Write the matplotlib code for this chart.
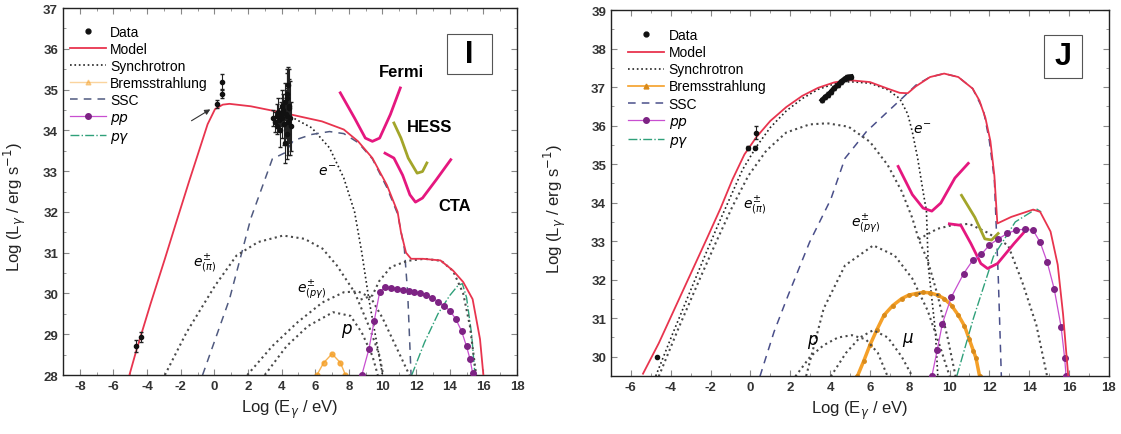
import matplotlib
matplotlib.use("Agg")
import matplotlib.pyplot as plt
from matplotlib.lines import Line2D
from matplotlib.patches import Rectangle
from matplotlib.ticker import MultipleLocator, FormatStrFormatter

plt.rcParams['font.family'] = ['Liberation Sans', 'DejaVu Sans']

# ---------------- panel I (left) ----------------
I_model_x = [-5.05, -4.64, -3.79, -2.94, -2.3, -1.5, -0.91, -0.4, 0.04, 0.5, 0.9, 2.17, 4.09, 6.4, 7.7,
             8.55, 9.4, 10.26, 10.9, 11.1, 11.4, 11.7, 12.4, 13.45, 14.2, 14.8, 15.36, 15.8, 16.0]
I_model_y = [28.0, 28.6, 29.75, 30.85, 31.7, 32.75, 33.5, 34.15, 34.52, 34.63, 34.65, 34.59, 34.43, 34.22, 34.02,
             33.73, 33.32, 32.66, 32.0, 31.5, 31.0, 30.85, 30.85, 30.81, 30.56, 30.28, 29.86, 28.88, 28.0]

I_sync_x = [4.3, 5.8, 6.85, 7.7, 8.34, 8.77, 9.19, 9.62, 10.0]
I_sync_y = [34.39, 34.06, 33.57, 32.83, 32.0, 31.0, 29.86, 28.88, 28.0]

I_ssc_x = [-0.7, 0.9, 2.17, 3.45, 4.2, 4.7, 5.8, 6.85, 7.7, 8.55, 9.4, 10.26, 10.9, 11.3, 11.5, 11.7]
I_ssc_y = [28.0, 29.86, 31.84, 33.3, 33.45, 33.75, 33.9, 33.97, 33.92, 33.7, 33.3, 32.6, 31.95, 31.1, 30.0, 28.0]

I_epi_x = [-2.94, -1.66, 0.04, 1.32, 2.6, 4.09, 5.36, 6.43, 7.28, 8.34, 9.19, 9.83, 10.04]
I_epi_y = [28.0, 29.04, 30.19, 30.93, 31.26, 31.42, 31.34, 31.1, 30.69, 30.03, 29.2, 28.47, 28.0]

I_epg1_x = [1.96, 3.45, 4.94, 6.43, 7.7, 8.55, 9.3, 10.0, 10.8, 11.6]
I_epg1_y = [28.0, 28.71, 29.29, 29.78, 30.03, 30.05, 29.9, 29.4, 28.7, 28.0]
I_epg2_x = [8.7, 9.4, 9.8, 10.5, 11.5, 12.5, 13.5, 14.2, 14.8, 15.2, 15.57]
I_epg2_y = [29.85, 29.95, 30.3, 30.65, 30.8, 30.85, 30.8, 30.55, 30.0, 29.2, 28.0]

I_p_x = [3.0, 4.3, 5.57, 7.06, 8.1, 8.77, 9.4, 9.72]
I_p_y = [28.0, 28.71, 29.2, 29.54, 29.45, 29.04, 28.47, 28.0]

I_pp_x = [8.77, 9.19, 9.51, 9.83, 10.15, 10.5, 10.85, 11.2, 11.55, 11.9, 12.25, 12.6, 12.95, 13.3,
          13.66, 14.0, 14.35, 14.7, 15.0, 15.2, 15.36]
I_pp_y = [28.0, 28.63, 29.33, 30.03, 30.15, 30.14, 30.12, 30.09, 30.06, 30.03, 30.0, 29.96, 29.9, 29.8,
          29.7, 29.58, 29.38, 29.08, 28.7, 28.4, 28.05]

I_pg_x = [11.74, 12.5, 13.3, 14.0, 14.5, 14.75, 15.0, 15.3, 15.5]
I_pg_y = [28.0, 28.8, 29.5, 29.95, 30.2, 30.24, 29.9, 29.0, 28.0]

I_brem_x = [6.1, 6.5, 7.0, 7.5, 7.8]
I_brem_y = [28.0, 28.3, 28.52, 28.3, 28.0]

I_fermi_x = [7.49, 8.34, 8.98, 9.4, 9.83, 10.47, 11.06]
I_fermi_y = [34.92, 34.3, 33.81, 33.73, 33.81, 34.39, 35.04]
I_hess_x = [10.68, 11.1, 11.53, 12.06, 12.38, 12.64]
I_hess_y = [34.18, 33.81, 33.32, 32.95, 32.99, 33.2]
I_cta_x = [10.15, 10.68, 11.2, 11.63, 11.96, 12.38, 13.2, 14.06]
I_cta_y = [33.44, 33.32, 32.9, 32.42, 32.24, 32.34, 32.79, 33.28]

I_data_x = [-4.64, -4.36, 0.15, 0.43, 0.43,
            3.5, 3.6, 3.7, 3.75, 3.8, 3.85, 3.9, 3.95, 4.0, 4.05, 4.1, 4.15, 4.2, 4.25, 4.3,
            4.35, 4.4, 4.45, 4.5, 4.55, 4.3, 4.4, 4.2, 4.35, 4.45]
I_data_y = [28.71, 28.94, 34.65, 34.9, 35.19,
            34.3, 34.2, 34.35, 34.1, 34.45, 34.25, 34.0, 34.4, 34.6, 34.3, 34.5, 34.15, 34.7, 34.4, 34.9,
            34.35, 34.2, 34.55, 34.3, 34.1, 33.9, 35.1, 33.7, 34.8, 34.6]
I_data_err = [0.15, 0.12, 0.1, 0.1, 0.18,
              0.2, 0.25, 0.3, 0.2, 0.35, 0.3, 0.4, 0.3, 0.4, 0.5, 0.4, 0.5, 0.45, 0.6, 0.5,
              0.7, 0.8, 0.7, 0.9, 0.6, 0.6, 0.45, 0.5, 0.7, 0.9]

# ---------------- panel J (right) ----------------
J_model_x = [-5.39, -4.6, -3.8, -3.0, -2.2, -1.5, -0.9, -0.3, 0.3, 1.0, 1.8, 2.6, 3.4, 4.2, 4.93, 6.0,
             6.89, 7.5, 7.9, 8.31, 9.02, 9.73, 10.44, 11.16, 11.5, 11.8, 12.05, 12.25, 12.4, 13.1, 14.2,
             14.55, 15.07, 15.43, 15.7, 15.87, 15.96]
J_model_y = [29.56, 30.35, 31.25, 32.15, 33.05, 33.85, 34.6, 35.25, 35.7, 36.12, 36.48, 36.77, 36.98, 37.12,
             37.18, 37.13, 36.96, 36.85, 36.84, 37.02, 37.26, 37.35, 37.26, 36.96, 36.65, 36.2, 35.6, 34.7,
             33.46, 33.63, 33.82, 33.76, 33.25, 32.39, 31.1, 30.04, 29.5]

J_sync_x = [-4.75, -3.9, -3.1, -2.3, -1.6, -1.0, -0.4, 0.3, 1.0, 1.8, 2.6, 3.4, 4.2, 5.0, 6.0, 6.9,
            7.5, 7.9, 8.13, 8.4, 8.67, 8.84, 8.93, 9.11, 9.29, 9.41]
J_sync_y = [29.5, 30.6, 31.6, 32.6, 33.45, 34.15, 34.85, 35.45, 35.95, 36.38, 36.7, 36.94, 37.08, 37.14,
            37.1, 36.93, 36.7, 36.3, 35.84, 35.15, 34.29, 33.78, 32.37, 31.51, 30.65, 29.49]

J_ssc_x = [0.48, 1.19, 1.9, 2.97, 4.04, 4.75, 5.82, 6.89, 7.6, 8.13, 8.31, 9.02, 9.73, 10.44, 11.16,
           11.7, 12.0, 12.25, 12.45, 12.6]
J_ssc_y = [29.49, 30.65, 31.6, 32.97, 34.09, 35.15, 35.84, 36.36, 36.7, 36.96, 37.05, 37.26, 37.35, 37.26,
           36.96, 36.4, 35.6, 34.6, 32.0, 29.5]

J_epi_x = [-4.6, -3.6, -2.6, -1.7, -0.9, -0.1, 0.8, 1.8, 2.97, 3.86, 4.93, 6.0, 6.89, 7.6, 8.13, 8.45,
           8.9, 9.4, 9.9, 10.3]
J_epi_y = [29.49, 30.75, 31.95, 33.0, 33.9, 34.7, 35.35, 35.82, 36.03, 36.06, 35.97, 35.58, 34.98, 34.29,
           33.6, 33.05, 32.5, 31.6, 30.5, 29.5]

J_epg1_x = [2.8, 3.68, 4.75, 6.17, 7.24, 8.13, 8.9, 9.5, 10.0]
J_epg1_y = [29.5, 31.25, 32.37, 32.89, 32.63, 32.03, 31.2, 30.3, 29.5]
J_epg2_x = [8.45, 9.38, 10.09, 10.98, 11.87, 12.94, 13.65, 14.36, 14.9]
J_epg2_y = [33.05, 33.32, 33.41, 33.45, 33.23, 32.89, 31.94, 30.82, 29.49]

J_p_x = [2.26, 3.0, 3.68, 4.4, 5.1, 5.8, 6.4, 6.89]
J_p_y = [29.49, 30.0, 30.3, 30.5, 30.56, 30.45, 30.1, 29.49]
J_mu_x = [4.04, 4.8, 5.5, 6.17, 6.9, 7.6, 8.13]
J_mu_y = [29.49, 30.1, 30.5, 30.69, 30.5, 30.0, 29.49]

J_pp_x = [9.11, 9.38, 9.64, 10.09, 10.71, 11.16, 11.6, 12.0, 12.45, 12.9, 13.35, 13.8, 14.2, 14.55,
          14.9, 15.25, 15.6, 15.78, 15.85]
J_pp_y = [29.49, 30.17, 30.86, 31.55, 32.16, 32.5, 32.66, 32.9, 33.06, 33.2, 33.29, 33.31, 33.28, 32.97,
          32.46, 31.77, 30.78, 29.96, 29.5]

J_pg_x = [10.36, 11.2, 12.2, 13.3, 14.36, 14.6]
J_pg_y = [29.49, 31.0, 32.6, 33.5, 33.84, 33.76]

J_brem_x = [5.37, 5.7, 6.0, 6.35, 6.71, 7.15, 7.6, 7.95, 8.31, 8.65, 9.02, 9.4, 9.73, 10.1, 10.44,
            10.75, 10.98, 11.2, 11.33, 11.51]
J_brem_y = [29.49, 29.9, 30.3, 30.7, 31.08, 31.33, 31.51, 31.6, 31.64, 31.67, 31.66, 31.6, 31.51, 31.33, 31.08,
            30.8, 30.47, 30.15, 29.96, 29.49]

J_fermi_x = [7.42, 8.13, 8.67, 9.11, 9.56, 10.27, 10.94]
J_fermi_y = [34.94, 34.21, 33.86, 33.78, 33.99, 34.64, 35.02]
J_hess_x = [10.6, 11.27, 11.77, 12.11, 12.44]
J_hess_y = [34.19, 33.62, 33.06, 33.03, 33.2]
J_cta_x = [9.99, 10.57, 11.07, 11.57, 11.91, 12.41, 13.24, 13.91]
J_cta_y = [33.45, 33.41, 32.94, 32.42, 32.29, 32.42, 32.94, 33.33]

J_data_x = [-4.68, -0.14, 0.21, 0.3, 3.6, 3.75, 3.9, 4.04, 4.2, 4.4, 4.55, 4.75, 4.85, 4.93, 5.05]
J_data_y = [30.0, 35.41, 35.43, 35.82, 36.66, 36.74, 36.8, 36.87, 36.97, 37.05, 37.14, 37.22, 37.25, 37.26, 37.27]
J_data_err = [0.03, 0.05, 0.05, 0.18, 0.06, 0.05, 0.06, 0.05, 0.05, 0.06, 0.05, 0.05, 0.06, 0.05, 0.05]

LEGEND_LABELS = ['Data', 'Model', 'Synchrotron', 'Bremsstrahlung', 'SSC', '$pp$', r'$p\gamma$']

RED = '#e8344e'
SENS = '#e5177f'
HESS = '#a3a52a'
PPL = '#c84fd0'
PPM = '#7d2384'
PGC = '#2fa07a'
ORG = '#f5a028'
DOT = '#4a4a4a'

fig = plt.figure(figsize=(11.21, 4.35), dpi=100)
axI = fig.add_axes([0.0562, 0.1356, 0.405, 0.8437])
axJ = fig.add_axes([0.545, 0.1333, 0.4442, 0.8414])


def style_axes(ax, xlim, ylim, ylab_x):
    ax.set_xlim(*xlim)
    ax.set_ylim(*ylim)
    ax.xaxis.set_major_locator(MultipleLocator(2))
    ax.xaxis.set_minor_locator(MultipleLocator(1))
    ax.yaxis.set_major_locator(MultipleLocator(1))
    ax.yaxis.set_minor_locator(MultipleLocator(0.5))
    ax.xaxis.set_major_formatter(FormatStrFormatter('%d'))
    ax.yaxis.set_major_formatter(FormatStrFormatter('%d'))
    ax.tick_params(which='both', direction='in', top=True, right=True, colors='#888888',
                   labelcolor='#333333', labelsize=9.5)
    ax.tick_params(which='major', length=4, width=0.8)
    ax.tick_params(which='minor', length=2, width=0.6)
    for lab in ax.get_xticklabels() + ax.get_yticklabels():
        lab.set_fontweight('bold')
    for s in ax.spines.values():
        s.set_color('#222222')
        s.set_linewidth(1.0)
    ax.set_xlabel(r'Log (E$_\gamma$ / eV)', fontsize=12, color='#222222')
    ax.set_ylabel(r'Log (L$_\gamma$ / erg s$^{-1}$)', fontsize=12, color='#222222')
    ax.yaxis.set_label_coords(ylab_x, 0.46)


def panel_box(ax, letter, x0, y0, w, h):
    ax.add_patch(Rectangle((x0, y0), w, h, transform=ax.transAxes, fc='white',
                           ec='#555555', lw=0.8, zorder=7))
    ax.text(x0 + w / 2, y0 + h / 2, letter, transform=ax.transAxes, fontsize=22,
            fontweight='bold', ha='center', va='center', zorder=8)


def add_legend(ax, brem_handle, anchor):
    data_h = Line2D([], [], ls='none', marker='o', ms=3.5, color='#111111')
    handles = [data_h] + list(ax.get_legend_handles_labels()[0])
    handles[3] = brem_handle
    ax.legend(handles, LEGEND_LABELS, loc='upper left', bbox_to_anchor=anchor, frameon=False,
              fontsize=10, handlelength=2.6, labelspacing=0.22, handletextpad=0.3,
              borderpad=0.0, borderaxespad=0.0)


# ---- panel I ----
ax = axI
ax.errorbar(I_data_x, I_data_y, yerr=I_data_err, fmt='o', ms=3, color='#111111',
            ecolor='#222222', elinewidth=0.8, capsize=1.5, zorder=6)
ax.plot(I_model_x, I_model_y, color=RED, lw=1.3, label='Model', zorder=5)
ax.plot(I_sync_x, I_sync_y, ':', color='#222222', lw=1.2, label='Synchrotron')
ax.plot(I_brem_x, I_brem_y, '-', color=ORG, lw=1.0, marker='o', ms=3.5, alpha=0.8,
        label='Bremsstrahlung')
ax.plot(I_ssc_x, I_ssc_y, '--', color='#505a80', lw=1.1, dashes=(5, 4), label='SSC')
ax.plot(I_pp_x, I_pp_y, '-', color=PPL, lw=0.9, marker='o', ms=4, mfc=PPM, mec=PPM,
        label='$pp$', zorder=4)
ax.plot(I_pg_x, I_pg_y, '-.', color=PGC, lw=1.0, label=r'$p\gamma$')
for xs, ys in [(I_epi_x, I_epi_y), (I_epg1_x, I_epg1_y), (I_epg2_x, I_epg2_y), (I_p_x, I_p_y)]:
    ax.plot(xs, ys, ':', color=DOT, lw=1.5)
ax.plot(I_fermi_x, I_fermi_y, color=SENS, lw=2.0)
ax.plot(I_cta_x, I_cta_y, color=SENS, lw=2.0)
ax.plot(I_hess_x, I_hess_y, color=HESS, lw=2.0)
ax.annotate('', xy=(-0.1, 34.55), xytext=(-1.5, 34.2),
            arrowprops=dict(arrowstyle='-|>', color='#333333', lw=0.8, mutation_scale=8))
ax.text(11.1, 35.45, 'Fermi', fontsize=12, fontweight='bold', ha='center', va='center')
ax.text(12.8, 34.1, 'HESS', fontsize=12, fontweight='bold', ha='center', va='center')
ax.text(14.3, 32.15, 'CTA', fontsize=12, fontweight='bold', ha='center', va='center')
ax.text(6.7, 33.0, r'$e^{-}$', fontsize=10, ha='center', va='center')
ax.text(-0.6, 30.75, r'$e^{\pm}_{(\pi)}$', fontsize=10, ha='center', va='center')
ax.text(5.8, 30.1, r'$e^{\pm}_{(p\gamma)}$', fontsize=10, ha='center', va='center')
ax.text(7.9, 29.1, r'$p$', fontsize=12, ha='center', va='center')
panel_box(ax, 'I', 0.846, 0.82, 0.099, 0.11)
brem_I = Line2D([], [], color=ORG, lw=1.0, marker='^', ms=3.5, alpha=0.45)
add_legend(ax, brem_I, (0.015, 0.955))
style_axes(ax, (-9, 18), (28, 37), -0.077)

# ---- panel J ----
ax = axJ
ax.errorbar(J_data_x, J_data_y, yerr=J_data_err, fmt='o', ms=3, color='#111111',
            ecolor='#222222', elinewidth=0.8, capsize=1.5, zorder=6)
ax.plot(J_model_x, J_model_y, color=RED, lw=1.3, label='Model', zorder=5)
ax.plot(J_sync_x, J_sync_y, ':', color='#222222', lw=1.2, label='Synchrotron')
ax.plot(J_brem_x, J_brem_y, '-', color=ORG, lw=2.5, marker='o', ms=2.5, mfc='#d98a1a',
        mec='#d98a1a', label='Bremsstrahlung')
ax.plot(J_ssc_x, J_ssc_y, '--', color='#4a4f8a', lw=1.1, dashes=(5, 4), label='SSC')
ax.plot(J_pp_x, J_pp_y, '-', color=PPL, lw=0.9, marker='o', ms=4, mfc=PPM, mec=PPM,
        label='$pp$', zorder=4)
ax.plot(J_pg_x, J_pg_y, '-.', color=PGC, lw=1.0, label=r'$p\gamma$')
ax.plot(J_data_x[4:], J_data_y[4:], '-', color='#111111', lw=3.5, zorder=6)
for xs, ys in [(J_epi_x, J_epi_y), (J_epg1_x, J_epg1_y), (J_epg2_x, J_epg2_y),
               (J_p_x, J_p_y), (J_mu_x, J_mu_y)]:
    ax.plot(xs, ys, ':', color=DOT, lw=1.5)
ax.plot(J_fermi_x, J_fermi_y, color=SENS, lw=2.0)
ax.plot(J_cta_x, J_cta_y, color=SENS, lw=2.0)
ax.plot(J_hess_x, J_hess_y, color=HESS, lw=2.0)
ax.text(8.6, 35.93, r'$e^{-}$', fontsize=10, ha='center', va='center')
ax.text(0.2, 33.95, r'$e^{\pm}_{(\pi)}$', fontsize=10, ha='center', va='center')
ax.text(5.8, 33.45, r'$e^{\pm}_{(p\gamma)}$', fontsize=10, ha='center', va='center')
ax.text(3.15, 30.4, r'$p$', fontsize=12, ha='center', va='center')
ax.text(7.9, 30.47, r'$\mu$', fontsize=12, ha='center', va='center')
panel_box(ax, 'J', 0.869, 0.814, 0.076, 0.118)
brem_J = Line2D([], [], color=ORG, lw=1.2, marker='^', ms=3.5, mfc='#d98a1a', mec='#d98a1a')
add_legend(ax, brem_J, (0.035, 0.95))
style_axes(ax, (-7, 18), (29.5, 39), -0.086)

fig.savefig('out.png', dpi=100)
